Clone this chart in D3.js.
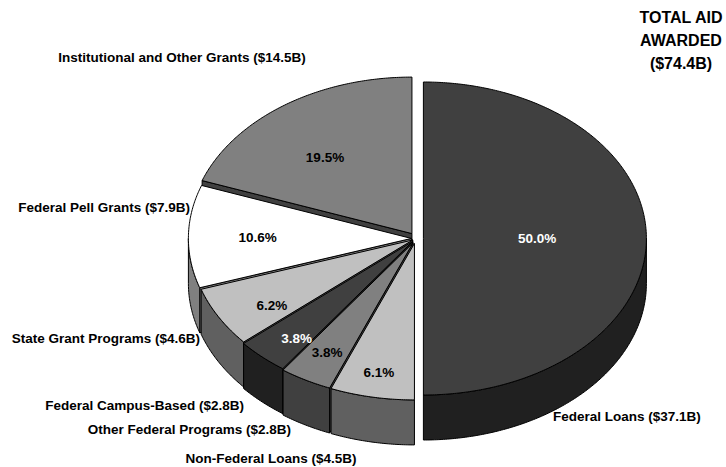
<!DOCTYPE html>
<html>
<head>
<meta charset="utf-8">
<script src="https://cdn.jsdelivr.net/npm/d3@7"></script>
<style>
  html, body { margin: 0; padding: 0; background: #ffffff; }
  svg { display: block; }
  text { font-family: "Liberation Sans", Arial, sans-serif; font-weight: bold; }
</style>
</head>
<body>
<div id="chart"></div>
<script>
// Total student aid awarded, split by source (billions of dollars and share of total)
const categories = [
  "Federal Loans",
  "Non-Federal Loans",
  "Other Federal Programs",
  "Federal Campus-Based",
  "State Grant Programs",
  "Federal Pell Grants",
  "Institutional and Other Grants"
];
const amounts = [37.1, 4.5, 2.8, 2.8, 4.6, 7.9, 14.5];
const shares = [50.0, 6.1, 3.8, 3.8, 6.2, 10.6, 19.5];
const totalAmount = 74.4;
const titleLines = ["TOTAL AID", "AWARDED"];

// Styling for each slice: top face fill (walls are drawn at half brightness)
const topFills = ["#404040", "#c0c0c0", "#808080", "#404040", "#c0c0c0", "#ffffff", "#808080"];
const pctFills = ["#ffffff", "#000000", "#000000", "#ffffff", "#000000", "#000000", "#000000"];
// How far each slice is pulled out from the centre, in px
const explode = [8, 5, 5, 4, 3, 4, 6];
// Placement of the percentage inside each slice: fraction of radius, plus a vertical nudge in px
const pctRadius = [0.51, 0.84, 0.8, 0.77, 0.726, 0.69, 0.678];
const pctNudge = [0, 0, 0, 8, 9, 0, 10];
// Outside category label placement
const catLabelLayout = [
  { x: 553, y: 416, anchor: "start" },
  { x: 271, y: 458, anchor: "middle" },
  { x: 291, y: 429, anchor: "end" },
  { x: 244, y: 405, anchor: "end" },
  { x: 200, y: 338, anchor: "end" },
  { x: 190, y: 207, anchor: "end" },
  { x: 182, y: 57, anchor: "middle" }
];

const W = 726, H = 467;
const cx = 415.4, cy = 238.5;   // pie centre (top face)
const rx = 223, ry = 156.5;     // ellipse radii of the tilted pie
const depth = 45;               // thickness of the pie

const svg = d3.select("#chart").append("svg")
  .attr("width", W).attr("height", H);

const pie = d3.pie().sort(null).value(d => d.share).startAngle(0).endAngle(2 * Math.PI);
const rows = categories.map((c, i) => ({
  name: c, amount: amounts[i], share: shares[i], fill: topFills[i], idx: i
}));
const arcs = pie(rows);

// elliptical projection: angle measured clockwise from 12 o'clock
const xs = d3.scaleLinear().domain([-1, 1]).range([-rx, rx]);
const ys = d3.scaleLinear().domain([-1, 1]).range([-ry, ry]);

function sideColor(hex) {
  const c = d3.rgb(hex);
  return d3.rgb(c.r / 2, c.g / 2, c.b / 2).formatHex();
}

function geom(a) {
  const mid = (a.startAngle + a.endAngle) / 2;
  const k = explode[a.data.idx];
  const ox = cx + k * Math.sin(mid);
  const oy = cy - k * Math.cos(mid);
  const pt = (t, r = 1, dz = 0) => [ox + xs(r * Math.sin(t)), oy - ys(r * Math.cos(t)) + dz];
  return { mid, ox, oy, pt };
}

function arcPts(pt, a0, a1, dz) {
  const n = Math.max(2, Math.ceil((a1 - a0) / 0.01));
  return d3.range(n + 1).map(j => pt(a0 + (a1 - a0) * j / n, 1, dz));
}

const line = d3.line().curve(d3.curveLinear);

// paint back to front
const order = arcs.slice().sort((p, q) =>
  (-Math.cos((p.startAngle + p.endAngle) / 2)) - (-Math.cos((q.startAngle + q.endAngle) / 2)));

const gPie = svg.append("g").attr("class", "pie");

function facePath(g, d, fill) {
  g.append("path").attr("d", d)
    .attr("fill", fill).attr("stroke", "#000").attr("stroke-width", 1)
    .attr("stroke-linejoin", "round");
}

order.forEach(a => {
  const { ox, oy, pt } = geom(a);
  const top = a.data.fill, side = sideColor(top);
  const g = gPie.append("g");
  const c0 = [ox, oy], c1 = [ox, oy + depth];

  // cut faces that turn towards the viewer
  const faces = [];
  if (Math.sin(a.startAngle) < -1e-6) faces.push(a.startAngle);
  if (Math.sin(a.endAngle) > 1e-6) faces.push(a.endAngle);
  faces.forEach(t => {
    facePath(g, line([c0, pt(t, 1, 0), pt(t, 1, depth), c1]) + "Z", side);
  });

  // outer wall on the front half
  const w0 = Math.max(a.startAngle, Math.PI / 2), w1 = Math.min(a.endAngle, 3 * Math.PI / 2);
  if (w1 > w0) {
    const upper = arcPts(pt, w0, w1, 0);
    const lower = arcPts(pt, w0, w1, depth).reverse();
    facePath(g, line(upper.concat(lower)) + "Z", side);
  }

  // top face
  facePath(g, line([c0].concat(arcPts(pt, a.startAngle, a.endAngle, 0))) + "Z", top);
});

// percentage labels inside slices
arcs.forEach(a => {
  const { mid, pt } = geom(a);
  const p = pt(mid, pctRadius[a.data.idx], pctNudge[a.data.idx]);
  svg.append("text")
    .attr("x", p[0]).attr("y", p[1]).attr("dy", "0.35em")
    .attr("text-anchor", "middle")
    .attr("font-size", 13.5)
    .attr("fill", pctFills[a.data.idx])
    .text(d3.format(".1f")(a.data.share) + "%");
});

// category labels with amounts
arcs.forEach(a => {
  const L = catLabelLayout[a.data.idx];
  svg.append("text")
    .attr("x", L.x).attr("y", L.y).attr("dy", "0.35em")
    .attr("text-anchor", L.anchor)
    .attr("font-size", 13.5)
    .attr("fill", "#000")
    .text(`${a.data.name} ($${d3.format(".1f")(a.data.amount)}B)`);
});

// total block, top right
const totalLines = titleLines.concat([`($${d3.format(".1f")(totalAmount)}B)`]);
svg.append("text")
  .attr("text-anchor", "middle").attr("font-size", 16).attr("fill", "#000")
  .selectAll("tspan").data(totalLines).join("tspan")
  .attr("x", 681)
  .attr("y", (d, i) => 17 + i * 23)
  .attr("dy", "0.35em")
  .text(d => d);
</script>
</body>
</html>
